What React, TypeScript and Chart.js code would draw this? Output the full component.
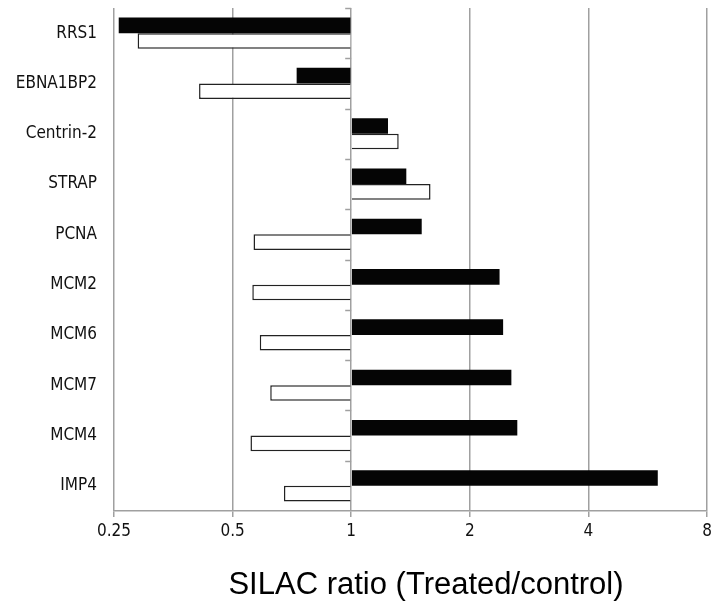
import React, { useEffect, useRef } from "react";
import { Chart, registerables } from "chart.js";

Chart.register(...registerables);

const categories = ["RRS1", "EBNA1BP2", "Centrin-2", "STRAP", "PCNA", "MCM2", "MCM6", "MCM7", "MCM4", "IMP4"];
const blackValues = [0.257, 0.727, 1.24, 1.38, 1.51, 2.38, 2.43, 2.55, 2.64, 6.0];
const whiteValues = [0.287, 0.411, 1.32, 1.59, 0.565, 0.561, 0.586, 0.623, 0.555, 0.675];
const xTicks = [0.25, 0.5, 1, 2, 4, 8];
const baseValue = 1;
const xTitle = "\u2002\u2002SILAC ratio (Treated/control)";

const centerTicks = {
  id: "centerTicks",
  afterDatasetsDraw(chart: any) {
    const x = chart.scales.x;
    const y = chart.scales.y;
    const px = x.getPixelForValue(baseValue);
    const ctx = chart.ctx;
    ctx.save();
    ctx.strokeStyle = "#a0a0a0";
    ctx.lineWidth = 1.5;
    const n = categories.length;
    const half = (y.getPixelForValue(1) - y.getPixelForValue(0)) / 2;
    for (let i = 0; i < n; i++) {
      const c = y.getPixelForValue(i);
      const yy = Math.round(c - half) + 0.5;
      ctx.beginPath();
      ctx.moveTo(px - 6, yy);
      ctx.lineTo(px, yy);
      ctx.stroke();
    }
    ctx.restore();
  },
};

export default function App() {
  const ref = useRef<HTMLCanvasElement>(null);
  useEffect(() => {
    if (!ref.current) return;
    const chart = new Chart(ref.current, {
      type: "bar",
      data: {
        labels: categories,
        datasets: [
          {
            label: "Treated",
            data: blackValues,
            base: baseValue,
            backgroundColor: "#050505",
            borderWidth: 0,
            categoryPercentage: 0.62,
            barPercentage: 1,
          } as any,
          {
            label: "Control",
            data: whiteValues,
            base: baseValue,
            backgroundColor: "#ffffff",
            borderColor: "#222",
            borderWidth: 1.5,
            categoryPercentage: 0.62,
            barPercentage: 1,
          } as any,
        ],
      },
      options: {
        indexAxis: "y",
        animation: false,
        responsive: true,
        maintainAspectRatio: false,
        layout: { padding: { left: 0, right: 7, top: 8, bottom: 0 } },
        plugins: { legend: { display: false }, tooltip: { enabled: false } },
        scales: {
          x: {
            type: "logarithmic",
            min: 0.25,
            max: 8,
            afterBuildTicks: (s: any) => {
              s.ticks = xTicks.map((v) => ({ value: v }));
            },
            afterFit: (s: any) => {
              s.height = 96;
              s.paddingLeft = 0;
              s.paddingRight = 0;
            },
            grid: { color: "#a0a0a0", lineWidth: 1.5, tickLength: 6 },
            border: { display: true, color: "#a0a0a0", width: 1.5 },
            ticks: {
              autoSkip: false,
              maxRotation: 0,
              padding: 4,
              color: "#111",
              font: { family: "DejaVu Sans Condensed", size: 17 },
              callback: (v: any) => String(v),
            },
            title: {
              display: true,
              text: xTitle,
              color: "#000",
              font: { family: "Liberation Sans", size: 31 },
              padding: { top: 0, bottom: 3 },
            },
          },
          y: {
            type: "category",
            afterFit: (s: any) => {
              s.width = 114;
              s.paddingTop = 0;
              s.paddingBottom = 0;
            },
            grid: { display: false, drawTicks: false },
            border: { display: false },
            ticks: {
              padding: 17,
              color: "#111",
              font: { family: "DejaVu Sans Condensed", size: 17 },
            },
          },
        },
      },
      plugins: [centerTicks],
    });
    return () => chart.destroy();
  }, []);
  return (
    <div style={{ position: "fixed", left: 0, top: 0, width: 714, height: 607, background: "#fff" }}>
      <canvas ref={ref} />
    </div>
  );
}
